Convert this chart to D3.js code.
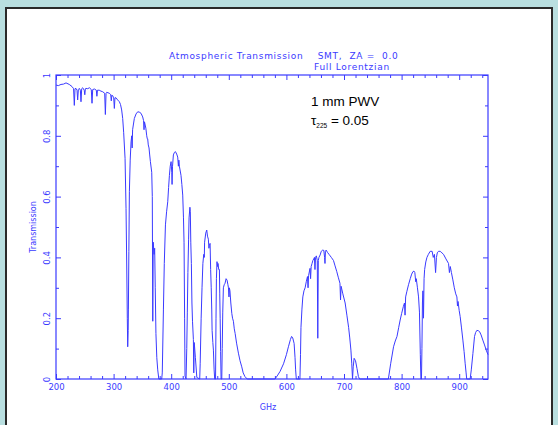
<!DOCTYPE html>
<html>
<head>
	<title>Atmospheric Transmission</title>
</head>
<style type="text/css">
	html, body {margin:0px; padding:0px; background:#b9dfe0;}
	svg {display:block;}
	text {font-family: "DejaVu Sans", sans-serif;}
</style>
<body>

	<svg></svg>

<script src="https://d3js.org/d3.v7.min.js"></script>
<script type="text/javascript">

	// spectrum: frequency (GHz) and transmission
	var ghz = [200,204,208.7,213,217.4,223,227.8,230.5,231.8,233,234.7,236.5,237.6,238.8,240.5,242.3,243.4,244.6,246.3,249,250,251,252,255,258,261.3,262.5,263.7,266.6,270,271,272,275,278,281,284.5,285.7,286.9,288,292.6,295,296,297,298.4,300.2,301.3,302.4,304.2,307,310,312,314,315.8,317.5,319.9,321.6,322.8,323.8,324.5,325.3,325.7,326.5,327.4,328.8,330.3,331.5,332.2,333,336,339,341.9,344.5,347.6,350.5,352,352.8,353.6,356,357.5,358.5,359.2,360.2,361.5,362.5,363.9,366.2,367.2,368,368.8,370.3,371.3,372.3,373.5,375,376.6,378.5,
		383.5,384.5,386.5,388,390,392,394,395.5,396.9,398.3,399.8,401,401.5,402.3,403.8,405.5,407.3,409.5,411.3,412.5,413.3,414.2,417,418.5,420,421.3,422.3,423.3,424,425.8,427,428,429,430.2,431,432.5,433.2,434,435,436,437,438.5,439.2,440,442,444.5,449.5,450.3,452,453.5,455,456.5,457.5,458,460,461.7,463,464.5,465.5,466.3,467.5,468.5,469.5,470.4,471,472.3,473.3,474.5,475.5,
		477,477.8,478.5,479.5,480.5,481.3,482.5,483.7,484.3,485,485.8,486.6,487.8,488.6,489.5,490.6,492,493.5,495.3,497,498.5,499.4,500.3,501,502,503.5,505.2,506.5,508,509.5,511,513.5,516.7,519.5,522.5,525,528,532,
		580,584,589,595,600,603.5,607,609,611,613.4,615,616,617.2,623.5,624.5,625.3,627,628.5,630.5,632.5,634.5,636.6,637.6,638.5,641,642,643,644.5,646,647.5,648.7,649.6,650.5,652,653.6,654.5,655.4,656.5,658.6,660.5,663,665,666.3,667,667.8,669,671.5,674,676,678,681.7,684.5,687.5,690,693,694,695,698,702,705,708,710,712,713.5,714.8,716,717.6,720,722.5,725,727,
		777,781,786,789,792,795,797.5,800,803,805,806,807,809,812,815,817.5,819.6,821.5,823,824.5,825.5,827.5,829.4,831,832.5,833.5,834.5,835.3,836.2,837,838,839,840,842,844,846.5,849.6,853,855,857,859,860.5,862,864,867,870,872.8,877,881.5,883,884.5,886.5,889,891.5,894,896,897,898,900,901.7,904,906.4,908.5,910.4,912,913,
		919,921,923.8,926.6,928.5,930.7,933,935.3,938,941,944,946.9,950];

	var transmission = [0.967,0.965,0.969,0.970,0.974,0.969,0.962,0.955,0.90,0.955,0.956,0.950,0.918,0.952,0.956,0.950,0.912,0.955,0.958,0.950,0.935,0.955,0.956,0.955,0.958,0.952,0.907,0.952,0.954,0.950,0.930,0.950,0.95,0.947,0.945,0.940,0.87,0.940,0.943,0.94,0.935,0.915,0.934,0.932,0.925,0.89,0.925,0.925,0.918,0.912,0.903,0.885,0.857,0.81,0.726,0.56,0.375,0.2,0.106,0.16,0.23,0.42,0.616,0.72,0.78,0.80,0.76,0.82,0.857,0.872,0.879,0.878,0.874,0.862,0.85,0.82,0.846,0.825,0.80,0.79,0.79,0.77,0.76,0.74,0.715,0.68,0.60,0.19,0.45,0.41,0.43,0.30,0.15,0.07,0.03,0,
		0,0.02,0.23,0.38,0.507,0.55,0.583,0.63,0.67,0.70,0.715,0.68,0.64,0.70,0.737,0.745,0.748,0.74,0.73,0.70,0.72,0.70,0.67,0.64,0.605,0.53,0.45,0.2,0.01,0,0.1,0.22,0.35,0.46,0.53,0.565,0.55,0.45,0.38,0.25,0.19,0.13,0.02,0.12,0.07,0.005,0,0.05,0.2,0.30,0.38,0.41,0.40,0.45,0.48,0.49,0.47,0.46,0.43,0.44,0.446,0.36,0.30,0.227,0.16,0.12,0.095,0.03,0,
		0,0.2,0.33,0.386,0.37,0.38,0.36,0.36,0.28,0.2,0.09,0,0,0.1,0.22,0.30,0.31,0.315,0.33,0.325,0.31,0.30,0.27,0.30,0.29,0.25,0.216,0.20,0.19,0.165,0.15,0.118,0.085,0.06,0.04,0.02,0.008,0,
		0,0.01,0.025,0.05,0.08,0.106,0.13,0.14,0.135,0.117,0.07,0.03,0,0,0.08,0.17,0.23,0.27,0.29,0.30,0.32,0.337,0.30,0.34,0.364,0.33,0.37,0.38,0.39,0.395,0.40,0.36,0.40,0.405,0.39,0.134,0.39,0.40,0.408,0.42,0.424,0.423,0.40,0.38,0.42,0.424,0.416,0.41,0.405,0.40,0.39,0.372,0.353,0.335,0.315,0.26,0.305,0.28,0.25,0.21,0.17,0.135,0.095,0.05,0,0.04,0.068,0.06,0.035,0.008,0,
		0,0.05,0.106,0.125,0.14,0.17,0.194,0.215,0.238,0.25,0.21,0.27,0.287,0.31,0.33,0.345,0.353,0.355,0.35,0.32,0.33,0.30,0.27,0.22,0.08,0,0,0.1,0.25,0.29,0.20,0.33,0.36,0.385,0.40,0.41,0.42,0.42,0.40,0.41,0.35,0.40,0.415,0.42,0.42,0.415,0.41,0.395,0.38,0.35,0.37,0.35,0.326,0.30,0.28,0.27,0.24,0.255,0.225,0.205,0.168,0.128,0.09,0.05,0.02,0,
		0,0.03,0.084,0.14,0.153,0.16,0.159,0.156,0.145,0.128,0.112,0.095,0.08];

	var xMajor = [200,300,400,500,600,700,800,900];
	var xLabels = ['200','300','400','500','600','700','800','900'];
	var yMajor = [0,0.2,0.4,0.6,0.8,1];
	var yLabels = ['0','0.2','0.4','0.6','0.8','1'];

	const W = 558, H = 425;
	const blue = '#3a3aff';

	const svg = d3.select('svg').attr('width', W).attr('height', H);

	// page panel
	svg.append('rect').attr('x',0).attr('y',0).attr('width',W).attr('height',H).attr('fill','#b9dfe0');
	svg.append('rect').attr('x',6).attr('y',8).attr('width',546).attr('height',H)
		.attr('fill','#fff').attr('stroke','#2a2a2a').attr('stroke-width',2);

	let x = d3.scaleLinear().domain([200,950]).range([56,488]);
	let y = d3.scaleLinear().domain([0,1]).range([379,75]);

	let xMinor = d3.range(200, 951, 20).filter(function(d) { return d % 100 !== 0; });
	let yMinor = [0.1,0.3,0.5,0.7,0.9];

	function styleAxis(g) {
		g.select('.domain').remove();
		g.selectAll('line').attr('stroke', blue);
		g.selectAll('text').attr('fill', blue).attr('font-size', 8.5);
	}

	// bottom
	svg.append('g').attr('transform','translate(0,379)')
		.call(d3.axisBottom(x).tickValues(xMajor).tickSize(-5).tickPadding(5)
			.tickFormat(function(d,i) { return xLabels[i]; }))
		.call(styleAxis);
	svg.append('g').attr('transform','translate(0,379)')
		.call(d3.axisBottom(x).tickValues(xMinor).tickSize(-3).tickFormat(''))
		.call(styleAxis);
	// top
	svg.append('g').attr('transform','translate(0,75)')
		.call(d3.axisTop(x).tickValues(xMajor).tickSize(-5).tickFormat(''))
		.call(styleAxis);
	svg.append('g').attr('transform','translate(0,75)')
		.call(d3.axisTop(x).tickValues(xMinor).tickSize(-3).tickFormat(''))
		.call(styleAxis);
	// left
	let left = svg.append('g').attr('transform','translate(56,0)')
		.call(d3.axisLeft(y).tickValues(yMajor).tickSize(-5)
			.tickFormat(function(d,i) { return yLabels[i]; }))
		.call(styleAxis);
	left.selectAll('text')
		.attr('x', 0).attr('dy', 0)
		.attr('text-anchor','middle')
		.attr('transform','translate(-6,0) rotate(-90)');
	svg.append('g').attr('transform','translate(56,0)')
		.call(d3.axisLeft(y).tickValues(yMinor).tickSize(-3).tickFormat(''))
		.call(styleAxis);
	// right
	svg.append('g').attr('transform','translate(488,0)')
		.call(d3.axisRight(y).tickValues(yMajor).tickSize(-5).tickFormat(''))
		.call(styleAxis);
	svg.append('g').attr('transform','translate(488,0)')
		.call(d3.axisRight(y).tickValues(yMinor).tickSize(-3).tickFormat(''))
		.call(styleAxis);

	// frame
	svg.append('rect').attr('x',56).attr('y',75).attr('width',432).attr('height',304)
		.attr('fill','none').attr('stroke',blue).attr('stroke-width',1.2);

	// spectrum
	let pts = ghz.map(function(f,i) { return [f, transmission[i]]; });
	let line = d3.line().x(function(d) { return x(d[0]); }).y(function(d) { return y(d[1]); });
	svg.append('path').datum(pts).attr('d', line)
		.attr('fill','none').attr('stroke', blue).attr('stroke-width',1);

	// titles
	svg.append('text').attr('x',169).attr('y',59).attr('fill',blue).attr('font-size',9)
		.style('letter-spacing','0.7px')
		.attr('xml:space','preserve').text('Atmospheric Transmission    SMT,  ZA =  0.0');
	svg.append('text').attr('x',314).attr('y',70).attr('fill',blue).attr('font-size',9)
		.style('letter-spacing','0.7px')
		.text('Full Lorentzian');
	svg.append('text').attr('x',268).attr('y',410).attr('fill',blue).attr('font-size',8)
		.attr('text-anchor','middle').text('GHz');
	svg.append('text').attr('transform','translate(36,227) rotate(-90)').attr('fill',blue)
		.attr('font-size',8).attr('text-anchor','middle').text('Transmission');

	// annotation
	svg.append('text').attr('x',311).attr('y',106).attr('fill','#000')
		.style('font-family','"Liberation Sans", Arial, sans-serif').attr('font-size',13.5)
		.text('1 mm PWV');
	let tau = svg.append('text').attr('x',311).attr('y',125).attr('fill','#000')
		.style('font-family','"Liberation Sans", Arial, sans-serif').attr('font-size',13.5);
	tau.append('tspan').text('\u03c4');
	tau.append('tspan').attr('font-size',6.5).attr('dy',3).text('225');
	tau.append('tspan').attr('dy',-3).text(' = 0.05');

</script>
</body>
</html>
